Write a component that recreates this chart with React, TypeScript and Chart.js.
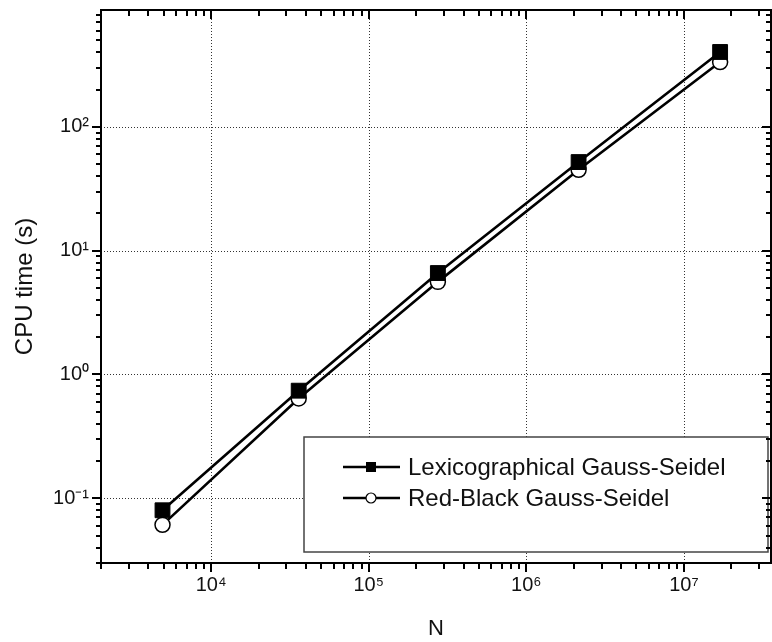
import React, { useEffect, useRef } from 'react';
import { Chart, registerables } from 'chart.js';

Chart.register(...registerables);

const problemSizes = [4913, 35937, 274625, 2146689, 16974593];
const lexTimes = [0.08, 0.74, 6.6, 52, 403];
const redBlackTimes = [0.061, 0.64, 5.6, 45, 334];
const seriesLabels = ['Lexicographical Gauss-Seidel', 'Red-Black Gauss-Seidel'];
const xTickValues = [1e4, 1e5, 1e6, 1e7];
const xTickLabels = ['10⁴', '10⁵', '10⁶', '10⁷'];
const yTickValues = [0.1, 1, 10, 100];
const yTickLabels = ['10⁻¹', '10⁰', '10¹', '10²'];
const xTitle = 'N';
const yTitle = 'CPU time (s)';

const FAMILY = "'Liberation Sans', Arial, sans-serif";
const TEXT = '#111';

const framePlugin = {
  id: 'frameTicksLegend',
  beforeDatasetsDraw(chart: any) {
    const { ctx, chartArea: a, scales } = chart;
    const xs = scales.x;
    const ys = scales.y;
    ctx.save();
    ctx.strokeStyle = '#333';
    ctx.lineWidth = 1;
    ctx.setLineDash([1, 2]);
    xTickValues.forEach((v) => {
      const px = Math.round(xs.getPixelForValue(v)) + 0.5;
      ctx.beginPath();
      ctx.moveTo(px, a.top);
      ctx.lineTo(px, a.bottom);
      ctx.stroke();
    });
    yTickValues.forEach((v) => {
      const py = Math.round(ys.getPixelForValue(v)) + 0.5;
      ctx.beginPath();
      ctx.moveTo(a.left, py);
      ctx.lineTo(a.right, py);
      ctx.stroke();
    });
    ctx.restore();
  },
  afterDatasetsDraw(chart: any) {
    const { ctx, chartArea: a, scales } = chart;
    const xs = scales.x;
    const ys = scales.y;
    ctx.save();
    // legend box
    const lx = 304, ly = 437, lw = 464, lh = 115;
    ctx.fillStyle = '#fff';
    ctx.fillRect(lx, ly, lw, lh);
    ctx.strokeStyle = '#444';
    ctx.lineWidth = 1.5;
    ctx.strokeRect(lx, ly, lw, lh);
    const rows = [467, 498];
    chart.data.datasets.forEach((ds: any, i: number) => {
      const y = rows[i];
      ctx.strokeStyle = '#000';
      ctx.lineWidth = 2.5;
      ctx.beginPath();
      ctx.moveTo(343, y);
      ctx.lineTo(400, y);
      ctx.stroke();
      if (i === 0) {
        ctx.fillStyle = '#000';
        ctx.fillRect(366, y - 5, 10, 10);
      } else {
        ctx.fillStyle = '#fff';
        ctx.lineWidth = 1.2;
        ctx.beginPath();
        ctx.arc(371, y, 5, 0, Math.PI * 2);
        ctx.fill();
        ctx.stroke();
      }
      ctx.fillStyle = TEXT;
      ctx.font = `24px ${FAMILY}`;
      ctx.textAlign = 'left';
      ctx.textBaseline = 'middle';
      ctx.fillText(ds.label, 408, y + 1);
    });
    // frame
    ctx.strokeStyle = '#000';
    ctx.lineWidth = 2;
    ctx.strokeRect(a.left, a.top, a.right - a.left, a.bottom - a.top);
    // ticks
    ctx.lineWidth = 2;
    for (let k = 3; k <= 7; k++) {
      for (let m = 1; m <= 9; m++) {
        const v = m * Math.pow(10, k);
        if (v < xs.min || v > xs.max) continue;
        const px = Math.round(xs.getPixelForValue(v));
        const len = m === 1 ? 9 : 6;
        ctx.beginPath();
        ctx.moveTo(px, a.bottom);
        ctx.lineTo(px, a.bottom + len);
        ctx.moveTo(px, a.top);
        ctx.lineTo(px, a.top + len);
        ctx.stroke();
      }
    }
    for (let k = -2; k <= 2; k++) {
      for (let m = 1; m <= 9; m++) {
        const v = m * Math.pow(10, k);
        if (v < ys.min || v > ys.max) continue;
        const py = Math.round(ys.getPixelForValue(v));
        const len = m === 1 ? 9 : 5;
        ctx.beginPath();
        ctx.moveTo(a.left, py);
        ctx.lineTo(a.left - len, py);
        ctx.moveTo(a.right, py);
        ctx.lineTo(a.right - len, py);
        ctx.stroke();
      }
    }
    ctx.restore();
  },
};

const zeroPadding = (s: any) => {
  s.paddingTop = 0;
  s.paddingBottom = 0;
  s.paddingLeft = 0;
  s.paddingRight = 0;
};

export default function App() {
  const ref = useRef<HTMLCanvasElement | null>(null);
  useEffect(() => {
    document.body.style.margin = '0';
    const canvas = ref.current!;
    const chart = new Chart(canvas, {
      type: 'line',
      data: {
        datasets: [
          {
            label: seriesLabels[0],
            data: problemSizes.map((x, i) => ({ x, y: lexTimes[i] })),
            borderColor: '#000',
            backgroundColor: '#000',
            borderWidth: 2.6,
            pointStyle: 'rect',
            pointRadius: 10.5,
            pointBackgroundColor: '#000',
            pointBorderColor: '#000',
            pointBorderWidth: 1,
          },
          {
            label: seriesLabels[1],
            data: problemSizes.map((x, i) => ({ x, y: redBlackTimes[i] })),
            borderColor: '#000',
            backgroundColor: '#fff',
            borderWidth: 2.6,
            pointStyle: 'circle',
            pointRadius: 7.5,
            pointBackgroundColor: '#fff',
            pointBorderColor: '#000',
            pointBorderWidth: 1.5,
          },
        ],
      },
      options: {
        animation: false,
        responsive: false,
        layout: { autoPadding: false, padding: { top: 10, right: 1, left: 0, bottom: 0 } },
        plugins: { legend: { display: false }, tooltip: { enabled: false } },
        scales: {
          x: {
            type: 'logarithmic',
            min: 2000,
            max: 3.57e7,
            grid: { display: false, drawTicks: false },
            border: { display: false },
            afterBuildTicks: (s: any) => {
              s.ticks = xTickValues.map((v) => ({ value: v }));
            },
            ticks: {
              autoSkip: false,
              maxRotation: 0,
              padding: 10,
              color: TEXT,
              font: { family: FAMILY, size: 20 },
              callback: (v: any) => {
                const i = xTickValues.findIndex((t) => Math.abs(t - Number(v)) / t < 1e-6);
                return i >= 0 ? xTickLabels[i] : '';
              },
            },
            title: {
              display: true,
              text: xTitle,
              color: TEXT,
              font: { family: FAMILY, size: 22 },
              padding: { top: 0, bottom: 0 },
            },
            afterFit: (s: any) => {
              s.height = 79;
              zeroPadding(s);
            },
          },
          y: {
            type: 'logarithmic',
            min: 0.03,
            max: 880,
            grid: { display: false, drawTicks: false },
            border: { display: false },
            afterBuildTicks: (s: any) => {
              s.ticks = yTickValues.map((v) => ({ value: v }));
            },
            ticks: {
              autoSkip: false,
              padding: 12,
              color: TEXT,
              font: { family: FAMILY, size: 20 },
              callback: (v: any) => {
                const i = yTickValues.findIndex((t) => Math.abs(t - Number(v)) / t < 1e-6);
                return i >= 0 ? yTickLabels[i] : '';
              },
            },
            title: {
              display: true,
              text: yTitle,
              color: TEXT,
              font: { family: FAMILY, size: 24 },
              padding: { top: 11, bottom: 0 },
            },
            afterFit: (s: any) => {
              s.width = 101;
              zeroPadding(s);
            },
          },
        },
      },
      plugins: [framePlugin],
    } as any);
    return () => chart.destroy();
  }, []);
  return <canvas ref={ref} width={772} height={642} style={{ display: 'block', width: 772, height: 642 }} />;
}
